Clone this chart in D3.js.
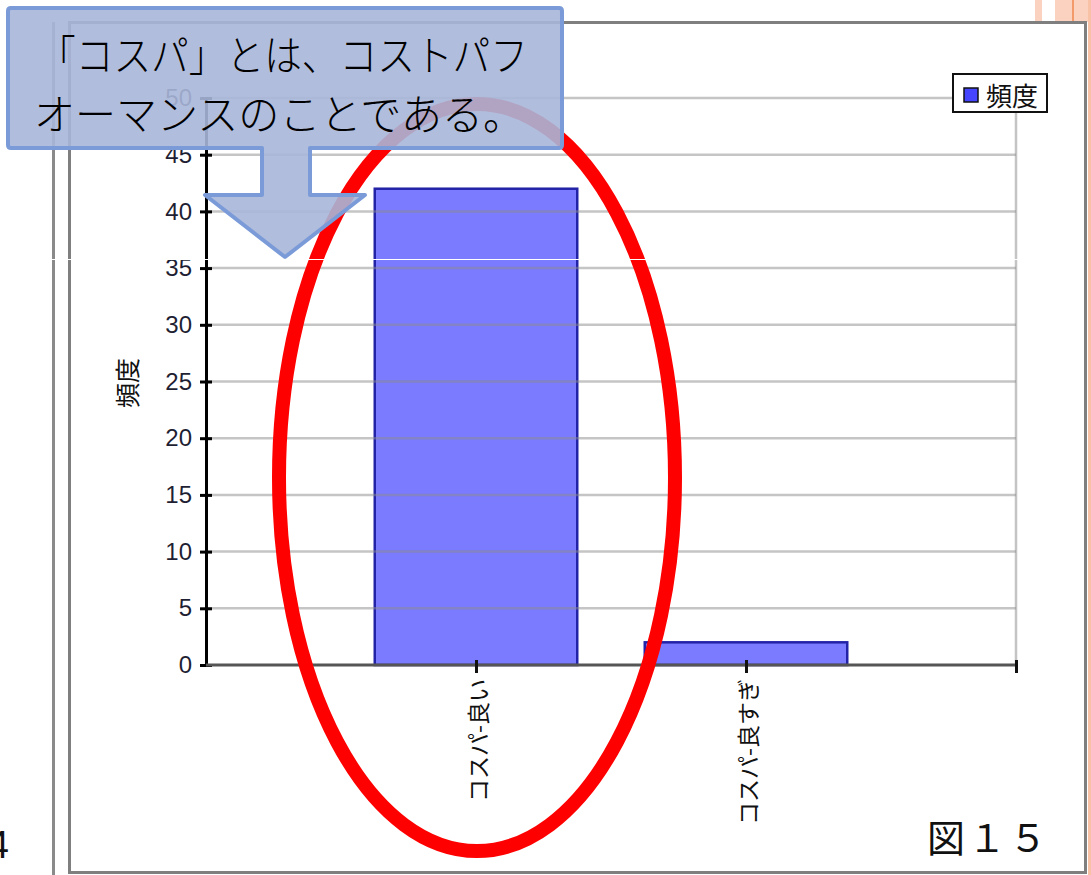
<!DOCTYPE html>
<html><head><meta charset="utf-8">
<script src="https://cdn.jsdelivr.net/npm/d3@7"></script>
<style>html,body{margin:0;padding:0;background:#fff;overflow:hidden}</style>
</head><body>
<svg id="c" width="1091" height="875"></svg>
<script>
const categories = ["コスパ-良い", "コスパ-良すぎ"];
const values = [42, 2];
const seriesName = "頻度";
const yTicks = [0, 5, 10, 15, 20, 25, 30, 35, 40, 45, 50];
const yAxisTitle = "頻度";
const calloutLines = ["「コスパ」とは、コストパフ", "オーマンスのことである。"];
const figureLabel = "図１５";
const pageNumber = "4";

const svg = d3.select("#c");
const jp = "'Noto Sans CJK JP','Noto Sans',sans-serif";
const num = "'Liberation Sans',Arial,sans-serif";

// slide decorations
svg.append("rect").attr("x",1035).attr("y",0).attr("width",7).attr("height",22).attr("fill","#fbd2bf");
svg.append("rect").attr("x",1055).attr("y",0).attr("width",36).attr("height",22).attr("fill","#fbd2bf");
svg.append("line").attr("x1",1073).attr("x2",1073).attr("y1",0).attr("y2",22).attr("stroke","#f39a6a").attr("stroke-width",2);
svg.append("rect").attr("x",1088).attr("y",0).attr("width",3).attr("height",875).attr("fill","#f7c2a6");
svg.append("line").attr("x1",53.5).attr("x2",53.5).attr("y1",22).attr("y2",875).attr("stroke","#8a8a8a").attr("stroke-width",3);
svg.append("rect").attr("x",69.5).attr("y",22.5).attr("width",1016).attr("height",850)
  .attr("fill","#fff").attr("stroke","#7f7f7f").attr("stroke-width",3);

// scales
const L = 206, R = 1016, T = 98, B = 665;
const x = d3.scaleLinear().domain([0, categories.length + 1]).range([L, R]);
const y = d3.scaleLinear().domain([0, 50]).range([B, T]);
const step = x(1) - x(0);
const bw = step * 0.75;

const g = svg.append("g");
// right border of plot
g.append("line").attr("x1",R).attr("x2",R).attr("y1",y(50)).attr("y2",B).attr("stroke","#c4c4c4").attr("stroke-width",2.5);

// bars
g.selectAll("rect.bar").data(values).join("rect").attr("class","bar")
  .attr("x",(d,i)=>x(i+1)-bw/2).attr("width",bw)
  .attr("y",d=>y(d)).attr("height",d=>B-y(d))
  .attr("fill","#7b7bff").attr("stroke","#2323a8").attr("stroke-width",2.5);

// gridlines (drawn on top, semi-transparent)
g.selectAll("line.grid").data(yTicks.filter(t=>t>0)).join("line").attr("class","grid")
  .attr("x1",L).attr("x2",R).attr("y1",d=>y(d)).attr("y2",d=>y(d))
  .attr("stroke","#8c8c8c").attr("stroke-opacity",0.5).attr("stroke-width",2.5);

// y axis
const ya = g.append("g").attr("transform",`translate(${L},0)`)
  .call(d3.axisLeft(y).tickValues(yTicks).tickSize(6).tickPadding(8));
ya.select(".domain").attr("stroke","#000").attr("stroke-width",3);
ya.selectAll(".tick line").attr("x1",-6).attr("x2",6).attr("stroke","#000").attr("stroke-width",3);
ya.selectAll(".tick text").attr("font-family",num).attr("font-size",24).attr("fill","#1f1f33");

// x axis
const xa = g.append("g").attr("transform",`translate(0,${B})`)
  .call(d3.axisBottom(x).tickValues(d3.range(1, categories.length + 2)).tickSize(8)
    .tickFormat(d=>categories[d-1] || ""));
xa.select(".domain").attr("stroke","#555").attr("stroke-width",3).attr("d",`M${L},0H${R}`);
xa.selectAll(".tick line").attr("y1",-5).attr("y2",8).attr("stroke","#111").attr("stroke-width",3);
xa.selectAll(".tick text")
  .attr("font-family",jp).attr("font-size",23).attr("fill","#111")
  .attr("text-anchor","end").attr("dominant-baseline","central")
  .attr("transform","translate(0,14) rotate(-90)").attr("x",0).attr("y",0).attr("dy",null);

// y axis title
svg.append("text").attr("transform","translate(126,383) rotate(-90)")
  .attr("text-anchor","middle").attr("dominant-baseline","central")
  .attr("font-family",jp).attr("font-size",25).attr("fill","#111").text(yAxisTitle);

// legend
const lg = svg.append("g");
lg.append("rect").attr("x",953).attr("y",74).attr("width",94).attr("height",38)
  .attr("fill","#fff").attr("stroke","#111").attr("stroke-width",2);
lg.append("rect").attr("x",964).attr("y",88).attr("width",14).attr("height",14)
  .attr("fill","#4545ff").attr("stroke","#111").attr("stroke-width",1.5);
lg.append("text").attr("x",986).attr("y",94).attr("dominant-baseline","central")
  .attr("font-family",jp).attr("font-size",26).attr("fill","#111").text(seriesName);

// red ellipse highlight around the first bar
svg.append("ellipse").attr("cx",x(1)+1).attr("cy",477.5).attr("rx",198).attr("ry",373.5)
  .attr("fill","none").attr("stroke","#ff0000").attr("stroke-width",14);

// white slide artifact line
svg.append("line").attr("x1",0).attr("x2",1035).attr("y1",259.5).attr("y2",259.5).attr("stroke","#fff").attr("stroke-width",1);

// callout
const cp = "M11,8 H559 Q562,8 562,11 V145 Q562,148 559,148 H310 V195 H365 L285,257 L205,195 H262 V148 H11 Q8,148 8,145 V11 Q8,8 11,8 Z";
svg.append("path").attr("d",cp).attr("fill","#a8b6d8").attr("fill-opacity",0.9)
  .attr("stroke","#7b9bd8").attr("stroke-width",4).attr("stroke-linejoin","round");
svg.append("text").attr("x",38).attr("y",52).attr("dominant-baseline","central")
  .attr("font-family",jp).attr("font-weight",300).attr("font-size",42).attr("fill","#000")
  .attr("textLength",490).attr("lengthAdjust","spacingAndGlyphs").text(calloutLines[0]);
svg.append("text").attr("x",34).attr("y",111).attr("dominant-baseline","central")
  .attr("font-family",jp).attr("font-weight",300).attr("font-size",42).attr("fill","#000")
  .attr("textLength",490).attr("lengthAdjust","spacingAndGlyphs").text(calloutLines[1]);

// figure label and page number
svg.append("text").attr("x",927).attr("y",835).attr("dominant-baseline","central")
  .attr("font-family",jp).attr("font-size",38).attr("fill","#111")
  .attr("letter-spacing",3).text(figureLabel);
svg.append("text").attr("x",9).attr("y",858).attr("text-anchor","end")
  .attr("font-family",num).attr("font-size",38).attr("fill","#111").text(pageNumber);
</script>
</body></html>
